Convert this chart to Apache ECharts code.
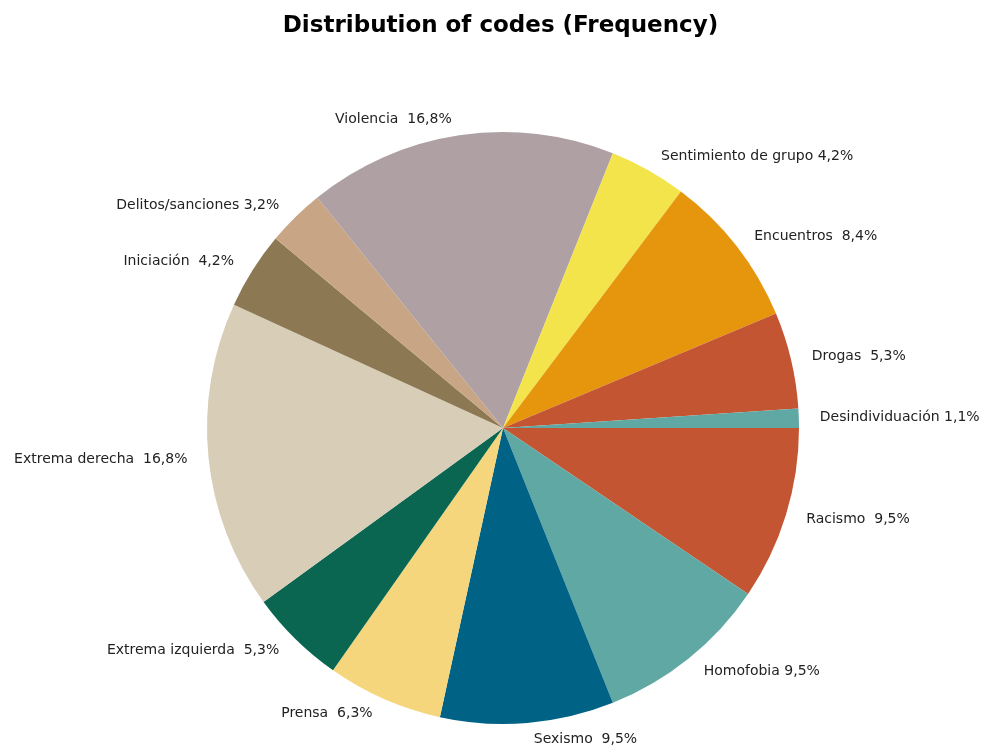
<!DOCTYPE html>
<html>
<head>
<meta charset="utf-8">
<script src="https://cdn.jsdelivr.net/npm/echarts@6/dist/echarts.min.js"></script>
<style>
  html, body { margin: 0; padding: 0; background: #fff; }
  #chart { width: 1001px; height: 753px; }
</style>
</head>
<body>
<div id="chart"></div>
<script>
// codes, clockwise from 3 o'clock (some names carry a trailing space, as in the source sheet)
const codes = ['Racismo ', 'Homofobia', 'Sexismo ', 'Prensa ', 'Extrema izquierda ', 'Extrema derecha ',
    'Iniciación ', 'Delitos/sanciones', 'Violencia ', 'Sentimiento de grupo', 'Encuentros ', 'Drogas ', 'Desindividuación'];
const counts = [9, 9, 9, 6, 5, 16, 4, 3, 16, 4, 8, 5, 1];
const colors = ['#C45533', '#5FA8A3', '#006285', '#F5D67C', '#0A6650', '#D8CDB7',
    '#8C7853', '#C8A584', '#AFA0A4', '#F3E44C', '#E6960C', '#C45533', '#5FA8A3'];

const total = counts.reduce((a, b) => a + b, 0);

const chart = echarts.init(document.getElementById('chart'));
chart.setOption({
    title: {
        text: 'Distribution of codes (Frequency)',
        left: 'center',
        top: 10,
        textStyle: {
            fontFamily: 'DejaVu Sans',
            fontWeight: 'bold',
            fontSize: 23,
            color: '#000',
        },
    },
    series: [{
        type: 'pie',
        center: [503, 428],
        radius: 296,
        startAngle: 0,
        clockwise: true,
        animation: false,
        label: {
            show: true,
            position: 'outside',
            fontFamily: 'DejaVu Sans',
            fontSize: 14,
            color: '#222',
            overflow: 'none',
            formatter: p => p.name + ' ' + (p.value / total * 100).toFixed(1).replace('.', ',') + '%',
        },
        labelLine: { show: false, length: 16, length2: 0 },
        emphasis: { disabled: true },
        data: codes.map((c, i) => ({ name: c, value: counts[i], itemStyle: { color: colors[i] } })),
    }],
});
</script>
</body>
</html>
